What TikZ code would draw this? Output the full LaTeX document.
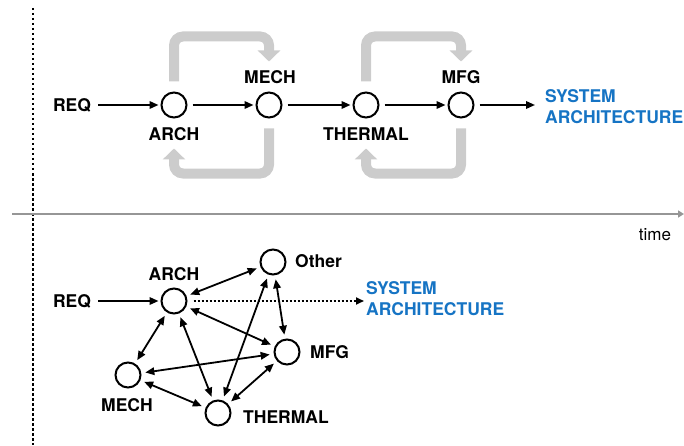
\documentclass[tikz,border=0pt]{standalone}
\usepackage{fontspec}
\setmainfont{TeX Gyre Heros}
\usetikzlibrary{arrows.meta}
\definecolor{sysblue}{RGB}{22,116,196}
\definecolor{loopgray}{RGB}{204,204,204}
\definecolor{axisgray}{RGB}{150,150,150}
\tikzset{
 stage/.style={circle,draw,line width=2pt,minimum size=25pt,inner sep=0pt},
 lbl/.style={font=\fontsize{17.5}{21}\selectfont\bfseries,inner sep=0pt},
 flow/.style={line width=1.8pt,-{Triangle[length=9pt,width=7.5pt]},shorten <=5pt,shorten >=2pt},
 link/.style={line width=1.8pt,{Triangle[length=9pt,width=7.5pt]}-{Triangle[length=9pt,width=7.5pt]},shorten <=4pt,shorten >=4pt},
 fb/.style={loopgray,line width=10pt,rounded corners=9pt,-{Triangle[length=11pt,width=22pt]}},
 result/.style={lbl,text=sysblue,align=left,anchor=west}
}
\begin{document}
\begin{tikzpicture}[x=1pt,y=1pt]
 \useasboundingbox (0,0) rectangle (684,445);
 \draw[line width=2.5pt,dash pattern=on 2.5pt off 2.5pt](33,437)--(33,0);
 \coordinate (axl) at (12,231);
 \coordinate (axr) at (684,231);
 \draw[axisgray,line width=2.5pt,-{Triangle[length=6pt,width=7pt]}] (axl) -- (axr);
 \node[font=\fontsize{17}{20}\selectfont,inner sep=0pt] (time) at (655,210) {time};

 \node[lbl] (req1) at (72,340) {REQ};
 \node[stage] (a1) at (174,340) {};
 \node[stage] (m1) at (269,340) {};
 \node[stage] (t1) at (366,340) {};
 \node[stage] (f1) at (461,340) {};
 \node[lbl] (a1l) at (174,311) {ARCH};
 \node[lbl] (m1l) at (270,368) {MECH};
 \node[lbl] (t1l) at (366,311) {THERMAL};
 \node[lbl] (f1l) at (461,368) {MFG};
 \coordinate (out1) at (537,340);
 \node[result] (sys1) at (545,338) {SYSTEM\\ARCHITECTURE};
 \draw[flow,shorten <=7pt] (req1) -- (a1);
 \draw[flow] (a1) -- (m1);
 \draw[flow] (m1) -- (t1);
 \draw[flow] (t1) -- (f1);
 \draw[flow] (f1) -- (out1);
 \draw[fb] ([yshift=10pt]a1.north) -- ++(0,45) -| ([yshift=30pt]m1.north);
 \draw[fb] ([yshift=-10pt]m1.south) -- ++(0,-45) -| ([yshift=-30pt]a1.south);
 \draw[fb] ([yshift=10pt]t1.north) -- ++(0,45) -| ([yshift=30pt]f1.north);
 \draw[fb] ([yshift=-10pt]f1.south) -- ++(0,-45) -| ([yshift=-30pt]t1.south);

 \node[lbl] (req2) at (72,144) {REQ};
 \node[stage] (a2) at (174,144) {};
 \node[stage] (o2) at (273,183) {};
 \node[stage] (f2) at (287,93) {};
 \node[stage] (m2) at (128,70) {};
 \node[stage] (t2) at (218,32) {};
 \node[lbl] (a2l) at (174,171) {ARCH};
 \node[lbl,anchor=west] (o2l) at (295,184) {Other};
 \node[lbl,anchor=west] (f2l) at (310,93) {MFG};
 \node[lbl] (m2l) at (127,40) {MECH};
 \node[lbl,anchor=west] (t2l) at (243,28) {THERMAL};
 \coordinate (out2) at (364,144);
 \node[result] (sys2) at (366,146) {SYSTEM\\ARCHITECTURE};
 \draw[flow,shorten <=7pt] (req2) -- (a2);
 \draw[line width=1.8pt,dash pattern=on 2pt off 2pt,-{Triangle[length=8pt,width=7pt]},shorten <=6pt] (a2) -- (out2);
 \draw[link] (a2) -- (o2);
 \draw[link] (a2) -- (f2);
 \draw[link] (a2) -- (m2);
 \draw[link] (a2) -- (t2);
 \draw[link] (o2) -- (f2);
 \draw[link] (o2) -- (t2);
 \draw[link] (m2) -- (f2);
 \draw[link] (m2) -- (t2);
 \draw[link] (t2) -- (f2);
\end{tikzpicture}
\end{document}
